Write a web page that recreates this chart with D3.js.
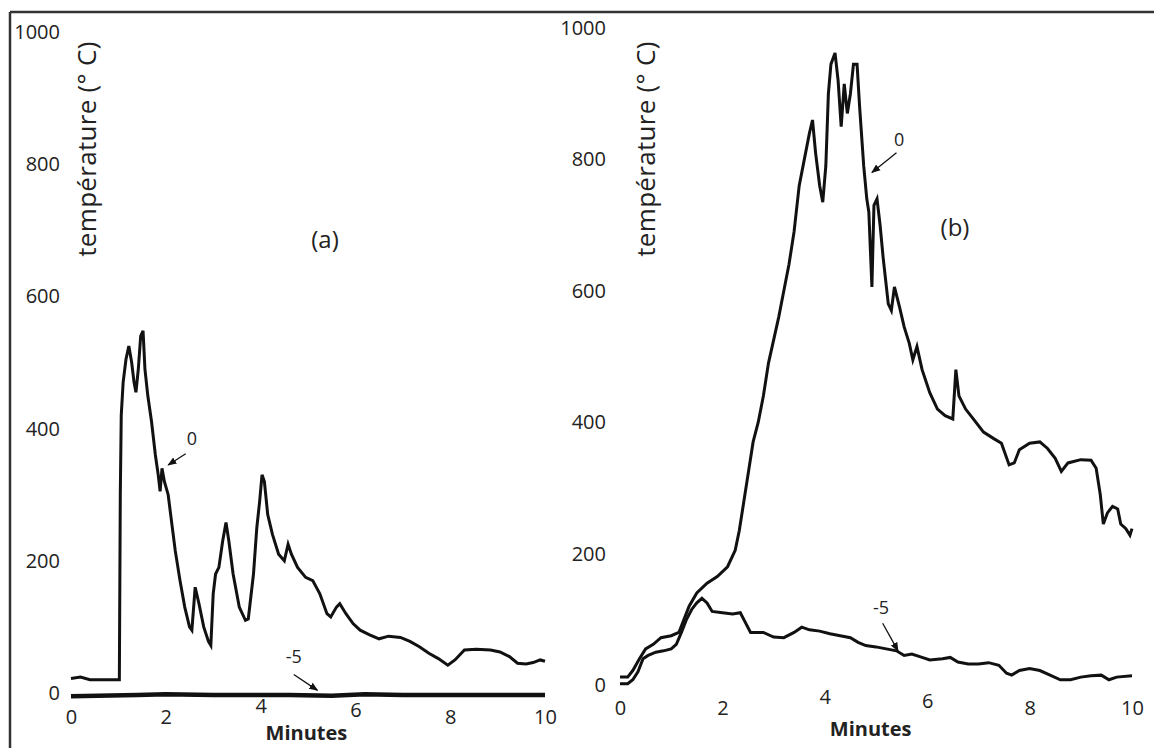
<!DOCTYPE html>
<html>
<head>
<meta charset="utf-8">
<script src="https://cdn.jsdelivr.net/npm/d3@7"></script>
<style>
  body { margin: 0; background: #fff; }
  svg text { font-family: "Open Sans", Lato, sans-serif; fill: #222; }
  .y-title { font-size: 26px; letter-spacing: 0.3px; }
  .panel-tag { font-size: 24px; }
  .x-title { font-size: 20px; font-weight: bold; }
  .note { font-size: 18px; }
</style>
</head>
<body>
<div class="wrapper-svg"></div>
<script>
// tick values shared by both panels
var yTicks = [0, 200, 400, 600, 800, 1000];
var xTicks = [0, 2, 4, 6, 8, 10];

// panel (a): [minutes, °C]
var aDepth0 = [[0,22],[0.2,24],[0.4,20],[1.02,20],[1.04,300],[1.06,420],[1.1,470],[1.16,505],[1.22,525],[1.28,500],
  [1.33,470],[1.37,455],[1.42,490],[1.47,540],[1.52,548],[1.56,490],[1.62,450],[1.7,410],[1.78,360],[1.84,330],
  [1.88,305],[1.92,340],[1.97,320],[2.05,300],[2.12,260],[2.2,215],[2.3,170],[2.4,130],[2.5,100],[2.55,95],
  [2.62,160],[2.7,135],[2.8,100],[2.9,78],[2.95,72],[3.0,150],[3.05,180],[3.12,190],[3.2,230],[3.27,258],
  [3.33,230],[3.42,180],[3.55,130],[3.68,110],[3.74,112],[3.85,180],[3.92,250],[3.98,290],[4.03,330],[4.08,320],
  [4.15,270],[4.25,240],[4.38,210],[4.5,200],[4.58,225],[4.65,210],[4.78,190],[4.95,175],[5.1,170],[5.25,150],
  [5.4,120],[5.48,115],[5.6,130],[5.67,135],[5.8,120],[5.95,105],[6.1,95],[6.3,88],[6.5,82],[6.7,86],
  [6.95,84],[7.15,78],[7.35,70],[7.55,60],[7.75,52],[7.95,42],[8.1,50],[8.3,65],[8.55,66],[8.85,65],
  [9.05,62],[9.25,55],[9.42,45],[9.6,44],[9.75,46],[9.9,50],[10,48]];
var aDepth5 = [[0,-5],[1.4,-3],[2.0,-2],[3,-3],[4.6,-3],[5.5,-4],[6.2,-2],[7,-3],[10,-3]];

// panel (b): [minutes, °C]
var bDepth0 = [[0,12],[0.15,12],[0.25,22],[0.38,40],[0.5,55],[0.65,62],[0.8,72],[1.0,75],[1.15,80],[1.25,100],
  [1.35,120],[1.5,140],[1.7,155],[1.9,165],[2.1,180],[2.25,205],[2.33,235],[2.42,280],[2.52,330],[2.6,370],
  [2.7,400],[2.8,440],[2.9,490],[3.0,525],[3.1,560],[3.2,600],[3.3,640],[3.4,690],[3.5,760],[3.6,800],
  [3.7,840],[3.76,860],[3.82,810],[3.9,760],[3.96,735],[4.02,790],[4.07,900],[4.12,945],[4.2,962],[4.26,920],
  [4.32,850],[4.38,915],[4.44,870],[4.5,900],[4.56,945],[4.63,945],[4.68,880],[4.76,790],[4.82,740],[4.86,720],
  [4.92,606],[4.96,730],[5.02,740],[5.08,700],[5.14,650],[5.24,580],[5.3,570],[5.36,606],[5.46,575],[5.55,545],
  [5.65,520],[5.72,495],[5.8,515],[5.9,480],[6.05,445],[6.2,420],[6.35,410],[6.5,405],[6.56,480],[6.62,440],
  [6.75,420],[6.9,405],[7.1,385],[7.3,375],[7.45,368],[7.6,335],[7.7,338],[7.8,358],[8.0,368],[8.2,370],
  [8.35,360],[8.5,345],[8.62,325],[8.75,338],[9.0,343],[9.2,342],[9.3,330],[9.38,290],[9.44,245],[9.52,262],
  [9.62,272],[9.72,268],[9.78,245],[9.88,238],[9.96,228],[10,238]];
var bDepth5 = [[0,2],[0.15,2],[0.25,8],[0.35,20],[0.45,40],[0.55,45],[0.7,50],[0.85,52],[1.0,55],[1.1,62],
  [1.2,80],[1.3,100],[1.4,115],[1.5,125],[1.6,132],[1.7,125],[1.8,112],[2.0,110],[2.2,108],[2.35,110],
  [2.45,95],[2.55,80],[2.8,80],[3.0,73],[3.2,72],[3.4,80],[3.55,88],[3.7,84],[3.9,82],[4.1,78],
  [4.3,75],[4.5,72],[4.65,65],[4.8,60],[5.0,58],[5.2,55],[5.4,52],[5.55,45],[5.7,47],[5.9,42],
  [6.05,38],[6.3,40],[6.45,42],[6.6,35],[6.8,32],[7.0,32],[7.2,34],[7.4,30],[7.55,18],[7.65,15],
  [7.8,22],[8.0,25],[8.2,22],[8.4,15],[8.6,8],[8.8,8],[9.0,12],[9.2,14],[9.4,15],[9.55,8],
  [9.7,12],[10,14]];

var svg = d3.select('.wrapper-svg')
    .append('svg')
    .attr('width', 1154)
    .attr('height', 748);

svg.append('defs').append('marker')
    .attr('id', 'head')
    .attr('viewBox', '0 0 10 10')
    .attr('refX', 9)
    .attr('refY', 5)
    .attr('markerWidth', 7)
    .attr('markerHeight', 7)
    .attr('orient', 'auto')
    .append('path')
    .attr('d', 'M0,1 L10,5 L0,9 Z')
    .attr('fill', '#111');

// frame
svg.append('line').attr('x1', 10).attr('y1', 12).attr('x2', 1154).attr('y2', 12)
    .attr('stroke', '#333').attr('stroke-width', 2.5);
svg.append('line').attr('x1', 10).attr('y1', 12).attr('x2', 10).attr('y2', 748)
    .attr('stroke', '#333').attr('stroke-width', 2.5);

function drawPanel(p) {
    var x = d3.scaleLinear().domain([0, 10]).range(p.xr);
    var y = d3.scaleLinear().domain([0, 1000]).range(p.yr);
    var g = svg.append('g');

    var yAxis = g.append('g')
        .attr('transform', 'translate(' + p.yLabelX + ',0)')
        .call(d3.axisLeft(y).tickValues(yTicks).tickFormat(d3.format('d')).tickSize(0).tickPadding(0));
    yAxis.select('.domain').remove();
    yAxis.selectAll('text').attr('fill', '#222')
        .style('font-family', '"Open Sans", sans-serif').style('font-size', '20px');

    var xAxis = g.append('g')
        .attr('transform', 'translate(0,' + p.xLabelY + ')')
        .call(d3.axisBottom(x).tickValues(xTicks).tickSize(0).tickPadding(0));
    xAxis.select('.domain').remove();
    // 4 and 6 sit a little higher, either side of "Minutes"
    xAxis.selectAll('text').attr('fill', '#222')
        .style('font-family', '"Open Sans", sans-serif').style('font-size', '20px')
        .attr('dy', function(d) { return d === 4 ? '0.15em' : (d === 6 ? '0.35em' : '0.71em'); });

    g.append('text')
        .attr('class', 'y-title')
        .attr('transform', 'translate(' + p.titleX + ',149) rotate(-90)')
        .attr('text-anchor', 'middle')
        .text('température (° C)');

    g.append('text')
        .attr('class', 'x-title')
        .attr('x', x(4) + 5)
        .attr('y', p.minutesY)
        .text('Minutes');

    g.append('text')
        .attr('class', 'panel-tag')
        .attr('x', p.tag[0])
        .attr('y', p.tag[1])
        .attr('text-anchor', 'middle')
        .text(p.tagText);

    var line = d3.line().x(function(d) { return x(d[0]); }).y(function(d) { return y(d[1]); });

    p.series.forEach(function(s) {
        g.append('path')
            .datum(s.data)
            .attr('d', line)
            .attr('fill', 'none')
            .attr('stroke', '#111')
            .attr('stroke-width', s.width)
            .attr('stroke-linejoin', 'miter');
    });

    p.notes.forEach(function(n) {
        g.append('text')
            .attr('class', 'note')
            .attr('x', x(n.label[0]))
            .attr('y', y(n.label[1]))
            .attr('text-anchor', 'middle')
            .text(n.text);
        g.append('line')
            .attr('x1', x(n.tail[0])).attr('y1', y(n.tail[1]))
            .attr('x2', x(n.tip[0])).attr('y2', y(n.tip[1]))
            .attr('stroke', '#111')
            .attr('stroke-width', 1.3)
            .attr('marker-end', 'url(#head)');
    });
}

drawPanel({
    xr: [71, 545], yr: [693, 32],
    yLabelX: 60, xLabelY: 710, minutesY: 740,
    titleX: 96,
    tag: [325, 248], tagText: '(a)',
    series: [{data: aDepth0, width: 3}, {data: aDepth5, width: 4.5}],
    notes: [
        {text: '0', label: [2.55, 375], tail: [2.42, 362], tip: [2.05, 345]},
        {text: '-5', label: [4.7, 45], tail: [4.7, 28], tip: [5.2, 4]}
    ]
});

drawPanel({
    xr: [620, 1132], yr: [685, 28],
    yLabelX: 606, xLabelY: 701, minutesY: 736,
    titleX: 655,
    tag: [955, 236], tagText: '(b)',
    series: [{data: bDepth0, width: 3}, {data: bDepth5, width: 3}],
    notes: [
        {text: '0', label: [5.45, 820], tail: [5.4, 810], tip: [4.92, 780]},
        {text: '-5', label: [5.1, 108], tail: [5.13, 94], tip: [5.43, 52]}
    ]
});
</script>
</body>
</html>
